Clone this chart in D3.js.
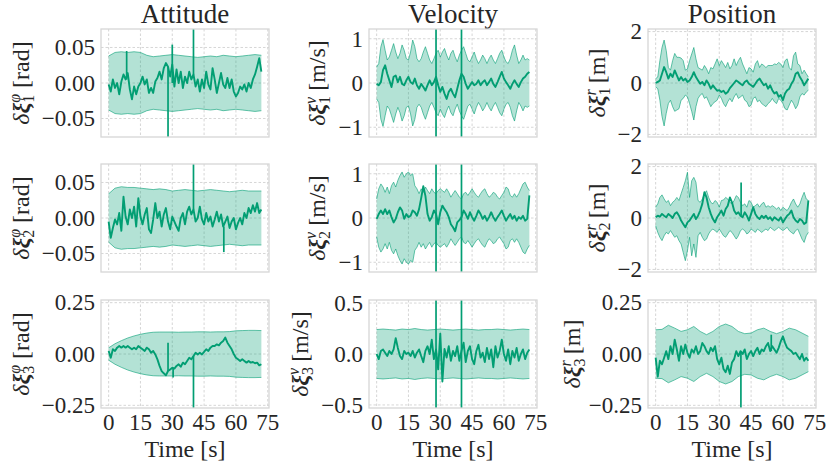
<!DOCTYPE html>
<html>
<head>
<meta charset="utf-8">
<script src="https://cdn.jsdelivr.net/npm/d3@7"></script>
<style>
  body { margin: 0; background: #fff; }
  svg { font-family: "Liberation Serif", serif; }
</style>
</head>
<body>
<svg id="chart" width="830" height="467"></svg>
<script>
/****************** data ******************/
const titles = ['Attitude', 'Velocity', 'Position'];
const timeTicks = [0, 15, 30, 45, 60, 75];

const attTicks12 = [-0.05, 0, 0.05];
const attTicks3 = [-0.25, 0, 0.25];
const velTicks12 = [-1, 0, 1];
const velTicks3 = [-0.5, 0, 0.5];
const posTicks12 = [-2, 0, 2];
const posTicks3 = [-0.25, 0, 0.25];

// estimates, 1 s samples (0..72 s)
const attSig1 = [-0.002,-0.012,0.005,-0.007,0,-0.016,0.002,0.012,0.005,0.014,
  -0.009,-0.023,-0.005,-0.016,-0.005,0,0.009,-0.002,0.005,-0.014,
  -0.007,-0.014,0.002,0.007,0.016,0.005,0.021,0.028,0.023,0.009,
  0.026,-0.005,0.019,0,0.016,-0.007,0.009,0,0.016,0.005,
  0.012,-0.005,0.005,-0.012,0.005,-0.007,0.016,-0.002,-0.009,0.021,
  0.005,-0.014,0,0.014,-0.002,-0.007,0.007,-0.007,0.005,-0.012,
  -0.019,-0.014,-0.005,-0.009,-0.002,-0.012,0,-0.007,0.005,0.012,
  0.023,0.035,0.016];
const attSig2 = [-0.005,-0.028,-0.014,-0.002,-0.009,0.007,-0.018,0.03,0.002,-0.009,
  0.012,0,0.016,-0.012,0.028,0.002,-0.009,0.005,0.014,-0.016,
  -0.021,-0.002,0.021,0,0.009,-0.012,0.005,0.014,-0.005,-0.016,
  0.002,-0.005,-0.012,-0.018,0,0.007,-0.009,0.009,0.016,0.005,
  0.012,-0.005,0,0.016,-0.002,-0.009,0.007,-0.005,0.002,-0.012,
  -0.002,0.009,-0.005,0.005,-0.012,-0.005,0.002,-0.014,-0.005,0,
  -0.016,-0.007,0,-0.009,0.007,0,0.014,0.007,0.018,0.009,
  0.021,0.007,0.012];
const attSig3 = [0.015,-0.018,0.023,0.015,0.031,0.039,0.031,0.039,0.031,0.039,
  0.031,0.023,0.031,0.023,0.039,0.031,0.023,0.015,0.031,0.023,
  0.006,0.015,-0.002,-0.026,-0.058,-0.083,-0.094,-0.104,-0.083,-0.075,
  -0.067,-0.071,-0.058,-0.05,-0.062,-0.042,-0.05,-0.034,-0.018,-0.026,
  -0.01,0.006,-0.002,0.006,-0.002,0.01,0.023,0.015,0.031,0.039,
  0.039,0.047,0.042,0.055,0.063,0.08,0.055,0.039,0.023,0,
  -0.018,-0.026,-0.034,-0.026,-0.034,-0.042,-0.034,-0.042,-0.039,-0.045,
  -0.042,-0.055,-0.05];

const velSig1 = [-0.02,-0.05,0.02,0.29,0.4,0.21,0.06,-0.09,0.14,0.17,
  0.02,0.14,-0.02,-0.05,0.06,0.14,0.02,-0.02,0.1,-0.05,
  -0.13,-0.02,-0.09,-0.17,-0.05,0.06,-0.05,0.02,0.14,-0.05,
  -0.2,-0.09,-0.24,-0.36,-0.2,-0.13,-0.24,-0.32,-0.13,0.06,
  0.21,0.14,-0.02,-0.13,-0.05,0.02,-0.05,-0.02,0.06,-0.05,
  0.02,0.06,-0.05,0.02,0.1,-0.02,-0.09,0.02,0.14,0.25,
  0.1,0.02,-0.05,-0.13,-0.02,0.06,-0.02,-0.09,0.02,0.1,
  0.14,0.21,0.25];
const velSig2 = [-0.02,0.09,0.17,0.09,0.2,0.09,0.17,0.02,-0.1,-0.02,
  0.13,0.24,0.17,-0.02,0.09,0.02,0.05,0.17,0.13,0.05,
  0.2,0.45,0.72,0.5,0.09,-0.06,0.02,0.17,0.09,-0.14,
  0.13,0.28,0.2,0.13,0.02,-0.14,-0.21,-0.3,-0.1,-0.05,
  0.02,0.17,0.09,-0.02,0.13,0.02,-0.06,0.05,0.17,0.09,
  -0.02,0.05,-0.06,0.02,0.13,0.02,-0.06,0.02,0.09,0.17,
  0.05,-0.06,0.02,0.09,-0.02,0.05,-0.06,0.02,-0.02,0.05,
  -0.06,-0.02,0.51];
const velSig3 = [0,-0.05,0.03,0.045,0.013,-0.02,0.03,0,0.045,0.156,
  0.06,-0.02,-0.05,0.03,0,0.013,-0.02,0.03,-0.035,0.013,
  0.045,-0.02,-0.08,0.03,0.076,0,0.14,-0.05,0.045,-0.15,
  0.2,-0.27,0.05,-0.035,0.076,-0.067,0.03,-0.02,0.076,-0.067,
  0.03,0.11,-0.08,0.03,0.076,-0.05,-0.1,0.03,0.09,-0.035,
  0.013,-0.08,0.06,-0.05,0.045,-0.13,0.076,-0.035,0.03,0.14,
  0,-0.067,0.045,-0.1,0.03,-0.035,0.06,-0.067,0,0.045,
  -0.05,0.013,0.045];

const posSig1 = [0,0.04,0.1,0.36,0.62,0.42,0.17,0.36,0.23,0.49,
  0.3,0.1,0.23,0.1,0.17,0.04,0.1,0.23,0.42,0.23,
  0.1,-0.03,0.04,-0.09,0.1,-0.03,-0.22,-0.09,-0.2,-0.3,
  -0.28,-0.35,-0.3,-0.42,-0.35,-0.2,-0.1,0,0.1,0.04,
  -0.03,-0.09,0.04,0.1,-0.03,-0.09,-0.15,-0.03,0.1,0.17,
  0.04,-0.09,-0.03,-0.22,-0.09,-0.28,-0.41,-0.35,-0.54,-0.47,
  -0.67,-0.41,-0.28,-0.22,-0.03,0.1,0.36,0.42,0.23,0.1,
  -0.09,0.04,0.17];
const posSig2 = [0.03,0.09,0.05,0.16,0.09,0.03,0.16,0.09,0,0.16,
  0.22,0.09,-0.1,-0.23,-0.36,-0.17,-0.1,0.03,0.16,-0.04,
  0.09,0.29,0.55,1.0,0.8,0.42,0.16,-0.04,-0.17,0.03,
  0.16,0.29,0.09,0.35,0.48,0.8,0.61,0.29,0.16,0.22,
  0.09,0.03,0.22,0.09,-0.1,0.16,0.42,0.16,0.03,-0.04,
  0.09,0,0.09,-0.04,0.03,-0.1,0.03,-0.04,-0.1,0.03,
  -0.17,-0.04,0.09,0.16,0.29,0.03,-0.1,-0.17,-0.04,-0.1,
  -0.23,-0.17,0.68];
const posSig3 = [-0.018,-0.11,-0.033,-0.05,-0.018,0.014,-0.025,0.038,0,0.07,
  0.022,-0.033,0.038,0,0.046,0.006,-0.018,0.022,0.006,0.038,
  0,0.014,0.054,0.038,0.014,0,0.03,0.014,0.038,-0.025,
  -0.05,-0.018,-0.073,-0.089,-0.057,-0.097,-0.041,-0.025,0.014,-0.01,
  0.014,0,0.022,-0.025,0,0.014,-0.01,0.014,0.03,0,
  0.022,0.014,0.038,0.054,0.014,0.038,0.022,0.006,0.03,0.062,
  0.086,0.054,0.03,0.022,0.014,0,0.006,-0.01,-0.025,0,
  -0.033,-0.018,-0.033];

// 3-sigma bands, 3 s samples (symmetric)
const attBand1 = [0.038,0.043,0.044,0.043,0.044,0.043,0.039,0.037,0.038,0.039,0.040,0.039,0.038,
  0.037,0.036,0.037,0.038,0.037,0.039,0.038,0.037,0.038,0.039,0.040,0.039];
const attBand2 = [0.034,0.042,0.044,0.043,0.043,0.042,0.041,0.040,0.041,0.040,0.038,0.039,0.040,
  0.039,0.038,0.039,0.040,0.039,0.038,0.037,0.038,0.039,0.038,0.038,0.038];
const attBand3 = [0.03,0.05,0.065,0.078,0.088,0.096,0.102,0.106,0.107,0.107,0.107,0.106,0.107,
  0.107,0.108,0.108,0.107,0.108,0.108,0.109,0.113,0.114,0.115,0.115,0.114];
const velBand3 = [0.24,0.245,0.24,0.235,0.245,0.24,0.25,0.24,0.235,0.24,0.245,0.24,0.235,
  0.24,0.245,0.24,0.235,0.24,0.24,0.245,0.24,0.235,0.24,0.245,0.24];
const posBand3 = [0.118,0.12,0.14,0.126,0.11,0.118,0.134,0.11,0.094,0.11,0.134,0.146,0.134,
  0.11,0.099,0.102,0.118,0.126,0.11,0.099,0.11,0.126,0.118,0.102,0.086];

// 3-sigma bands, 1 s samples
const velBand1 = [0.36,0.44,0.82,0.98,0.74,0.52,0.59,0.74,0.89,0.7,
  0.55,0.67,0.86,0.74,0.55,0.52,0.7,0.97,0.82,0.55,
  0.48,0.55,0.7,0.82,0.67,0.52,0.44,0.55,0.67,0.74,
  0.59,0.7,0.78,0.63,0.52,0.67,0.74,0.59,0.48,0.63,
  0.74,0.82,0.67,0.52,0.48,0.59,0.7,0.55,0.44,0.52,
  0.63,0.55,0.44,0.55,0.63,0.52,0.44,0.55,0.67,0.74,
  0.59,0.48,0.44,0.55,0.74,0.86,0.63,0.44,0.52,0.63,
  0.52,0.55,0.52];
const velBand2 = [0.43,0.66,0.77,0.7,0.58,0.7,0.55,0.73,0.81,0.7,
  0.85,0.96,1.04,0.92,1.0,1.04,0.96,1.0,0.73,0.66,
  0.55,0.66,0.58,0.7,0.62,0.55,0.66,0.58,0.55,0.62,
  0.66,0.62,0.58,0.66,0.58,0.47,0.55,0.62,0.55,0.47,
  0.43,0.55,0.58,0.51,0.58,0.66,0.58,0.51,0.47,0.55,
  0.62,0.66,0.55,0.47,0.51,0.58,0.55,0.47,0.43,0.51,
  0.58,0.7,0.66,0.51,0.47,0.55,0.47,0.55,0.66,0.77,
  0.81,0.7,0.62];
const posHi1 = [0.17,0.23,0.87,1.38,1.67,1.26,0.6,0.5,0.87,1.15,
  1.0,1.0,0.97,0.87,0.5,0.55,0.87,1.13,1.38,0.94,
  0.6,0.55,0.5,0.68,0.55,0.36,0.6,0.55,0.74,0.94,
  0.68,0.87,0.74,0.6,0.8,0.55,0.68,0.94,0.68,0.87,
  1.0,0.74,0.55,0.36,0.6,0.55,0.42,0.74,0.87,0.6,
  0.74,0.68,0.6,0.68,0.68,0.68,0.74,0.72,0.8,0.74,
  0.6,0.87,0.94,0.6,0.5,1.06,1.2,0.74,0.68,0.36,
  0.5,0.36,0.23];
const posLo1 = [-0.15,-0.22,-0.67,-1.3,-1.67,-1.18,-0.8,-0.67,-0.92,-1.1,
  -1.05,-1.0,-0.67,-0.6,-0.47,-0.54,-0.8,-1.1,-1.44,-0.92,
  -0.6,-0.47,-0.41,-0.6,-0.54,-0.73,-0.92,-0.8,-0.73,-0.67,
  -0.47,-0.6,-0.8,-0.92,-0.73,-0.6,-0.73,-0.54,-0.41,-0.6,
  -0.54,-0.47,-0.67,-0.73,-0.92,-0.86,-0.6,-0.54,-0.73,-0.67,
  -0.8,-0.86,-0.92,-0.8,-0.73,-0.6,-0.73,-0.8,-0.6,-0.67,
  -0.8,-1.0,-1.05,-0.86,-0.67,-0.8,-1.0,-0.86,-0.54,-0.41,
  -0.47,-0.35,-0.28];
const posHi2 = [0.42,0.55,0.8,0.9,0.74,0.61,0.68,0.48,0.61,0.68,
  0.8,0.68,0.94,1.19,1.45,1.78,0.8,1.45,1.58,1.39,
  0.68,0.61,0.74,0.94,1.06,0.8,0.61,0.55,0.68,0.61,
  0.42,0.68,0.7,0.8,0.74,0.61,0.55,0.68,0.87,0.8,
  0.61,0.48,0.55,0.42,0.68,0.61,0.42,0.48,0.55,0.42,
  0.55,0.61,0.42,0.48,0.42,0.48,0.42,0.35,0.42,0.29,
  0.42,0.35,0.29,0.42,0.61,0.74,0.55,0.42,0.55,0.8,
  1.0,0.74,0.68];
const posLo2 = [-0.3,-0.56,-0.75,-0.88,-0.69,-0.56,-0.62,-0.49,-0.62,-0.75,
  -0.69,-0.88,-1.01,-1.34,-1.66,-1.27,-0.75,-1.47,-1.01,-1.53,
  -0.69,-0.56,-0.75,-0.88,-0.82,-0.62,-0.49,-0.43,-0.49,-0.56,
  -0.43,-0.56,-0.69,-0.75,-0.62,-0.49,-0.56,-0.69,-0.82,-0.69,
  -0.49,-0.43,-0.49,-0.62,-0.56,-0.43,-0.49,-0.56,-0.43,-0.49,
  -0.56,-0.49,-0.43,-0.49,-0.36,-0.43,-0.49,-0.43,-0.36,-0.43,
  -0.49,-0.43,-0.36,-0.49,-0.56,-0.62,-0.49,-0.43,-0.62,-0.82,
  -0.95,-0.69,-0.56];

// outlier samples [t, from, to]
const attSpikes1 = [[8.5, 0.005, 0.045], [28, -0.2, 0.023], [30, 0, 0.054], [40, 0.012, 0.2]];
const attSpikes2 = [[40, 0.012, 0.2], [54.3, -0.048, -0.012]];
const attSpikes3 = [[28, -0.083, 0.055], [30.4, -0.115, -0.067], [40, -0.5, -0.01]];
const velSpikes = [[28, -5, 5], [40, -5, 5]];
const posSpikes2 = [[40.3, 0.09, 1.38]];
const posSpikes3 = [[40.2, -0.5, 0.014], [54.5, 0.014, 0.094]];
/****************** data ******************/

const svg = d3.select('#chart');
const green = '#029e73';
const ink = '#262626';
const colX = [101, 369, 648];
const rowY = [29, 164, 300];
const W = 168, H = 108;

const neg = a => a.map(v => -v);
const pts = vals => vals.map((v, i) => ({ t: i * 72 / (vals.length - 1), v }));

const panels = [
  { c: 0, r: 0, lx: 21, sig: attSig1, hi: attBand1, lo: neg(attBand1), spikes: attSpikes1, ymax: 0.076, ticks: attTicks12, fmt: '.2f', sup: 'φ', unit: '[rad]' },
  { c: 0, r: 1, lx: 21, sig: attSig2, hi: attBand2, lo: neg(attBand2), spikes: attSpikes2, ymax: 0.076, ticks: attTicks12, fmt: '.2f', sup: 'φ', unit: '[rad]' },
  { c: 0, r: 2, lx: 21, sig: attSig3, hi: attBand3, lo: neg(attBand3), spikes: attSpikes3, ymax: 0.263, ticks: attTicks3, fmt: '.2f', sup: 'φ', unit: '[rad]' },
  { c: 1, r: 0, lx: 317, sig: velSig1, hi: velBand1, lo: neg(velBand1), spikes: velSpikes, ymax: 1.22, ticks: velTicks12, fmt: 'd', sup: 'v', unit: '[m/s]' },
  { c: 1, r: 1, lx: 317, sig: velSig2, hi: velBand2, lo: neg(velBand2), spikes: velSpikes, ymax: 1.22, ticks: velTicks12, fmt: 'd', sup: 'v', unit: '[m/s]' },
  { c: 1, r: 2, lx: 300, sig: velSig3, hi: velBand3, lo: neg(velBand3), spikes: velSpikes, ymax: 0.53, ticks: velTicks3, fmt: '.1f', sup: 'v', unit: '[m/s]' },
  { c: 2, r: 0, lx: 597, sig: posSig1, hi: posHi1, lo: posLo1, spikes: [], ymax: 2.1, ticks: posTicks12, fmt: 'd', sup: 'r', unit: '[m]' },
  { c: 2, r: 1, lx: 597, sig: posSig2, hi: posHi2, lo: posLo2, spikes: posSpikes2, ymax: 2.1, ticks: posTicks12, fmt: 'd', sup: 'r', unit: '[m]' },
  { c: 2, r: 2, lx: 572, sig: posSig3, hi: posBand3, lo: neg(posBand3), spikes: posSpikes3, ymax: 0.263, ticks: posTicks3, fmt: '.2f', sup: 'r', unit: '[m]' },
];

/****************** titles ******************/
titles.forEach((t, i) => {
  svg.append('text').text(t)
    .attr('x', colX[i] + W / 2).attr('y', 23)
    .attr('text-anchor', 'middle')
    .attr('font-size', '27px')
    .attr('fill', ink);
});

/****************** panels ******************/
panels.forEach((p, k) => {
  const x0 = colX[p.c], y0 = rowY[p.r];
  const x = d3.scaleLinear().domain([-3.6, 75.6]).range([x0, x0 + W]);
  const y = d3.scaleLinear().domain([-p.ymax, p.ymax]).range([y0 + H, y0]);
  const g = svg.append('g');

  g.append('clipPath').attr('id', 'clip' + k)
    .append('rect').attr('x', x0).attr('y', y0).attr('width', W).attr('height', H);

  // grid
  g.selectAll('.vg').data(timeTicks).join('line')
    .attr('x1', d => x(d)).attr('x2', d => x(d))
    .attr('y1', y0).attr('y2', y0 + H)
    .attr('stroke', '#cccccc').attr('stroke-width', 0.8).attr('stroke-dasharray', '2.5,2');
  g.selectAll('.hg').data(p.ticks).join('line')
    .attr('x1', x0).attr('x2', x0 + W)
    .attr('y1', d => y(d)).attr('y2', d => y(d))
    .attr('stroke', '#cccccc').attr('stroke-width', 0.8).attr('stroke-dasharray', '2.5,2');

  const plot = g.append('g').attr('clip-path', `url(#clip${k})`);

  // band
  const hi = pts(p.hi), lo = pts(p.lo);
  const band = hi.map((d, i) => ({ t: d.t, a: lo[i].v, b: d.v }));
  plot.append('path').datum(band)
    .attr('d', d3.area().x(d => x(d.t)).y0(d => y(d.a)).y1(d => y(d.b)))
    .attr('fill', green).attr('fill-opacity', 0.3);
  [hi, lo].forEach(edge => {
    plot.append('path').datum(edge)
      .attr('d', d3.line().x(d => x(d.t)).y(d => y(d.v)))
      .attr('fill', 'none').attr('stroke', green)
      .attr('stroke-width', 0.8).attr('stroke-opacity', 0.75);
  });

  // estimate error
  plot.append('path').datum(pts(p.sig))
    .attr('d', d3.line().x(d => x(d.t)).y(d => y(d.v)))
    .attr('fill', 'none').attr('stroke', green)
    .attr('stroke-width', 1.9).attr('stroke-linejoin', 'round');
  plot.selectAll('.spike').data(p.spikes).join('line')
    .attr('x1', d => x(d[0])).attr('x2', d => x(d[0]))
    .attr('y1', d => y(d[1])).attr('y2', d => y(d[2]))
    .attr('stroke', green).attr('stroke-width', 1.7);

  // frame
  g.append('rect').attr('x', x0).attr('y', y0).attr('width', W).attr('height', H)
    .attr('fill', 'none').attr('stroke', '#d6d6d6').attr('stroke-width', 1.3);

  // y ticks
  const f = d3.format(p.fmt);
  g.selectAll('.yt').data(p.ticks).join('text')
    .text(d => f(d))
    .attr('x', x0 - 6).attr('y', d => y(d)).attr('dy', '0.34em')
    .attr('text-anchor', 'end').attr('font-size', '23px').attr('fill', ink);

  // x ticks on bottom row
  if (p.r === 2) {
    g.selectAll('.xt').data(timeTicks).join('text')
      .text(d => d)
      .attr('x', d => x(d)).attr('y', y0 + H + 22)
      .attr('text-anchor', 'middle').attr('font-size', '23px').attr('fill', ink);
    g.append('text').text('Time [s]')
      .attr('x', x0 + W / 2).attr('y', 457)
      .attr('text-anchor', 'middle').attr('font-size', '24px').attr('fill', ink);
  }

  // y label
  const lab = g.append('text')
    .attr('transform', `translate(${p.lx},${y0 + H / 2}) rotate(-90)`)
    .attr('text-anchor', 'middle').attr('dy', '0.35em')
    .attr('font-size', '24px').attr('fill', ink);
  lab.append('tspan').text('δ').attr('font-style', 'italic');
  lab.append('tspan').text('ξ').attr('font-style', 'italic').attr('font-weight', 'bold');
  lab.append('tspan').text(p.r + 1).attr('font-size', '16px').attr('dy', 5);
  lab.append('tspan').text(p.sup).attr('font-size', '16px').attr('font-style', 'italic')
    .attr('dx', -8).attr('dy', -14);
  lab.append('tspan').text(' ' + p.unit).attr('dy', 9);
});
</script>
</body>
</html>
